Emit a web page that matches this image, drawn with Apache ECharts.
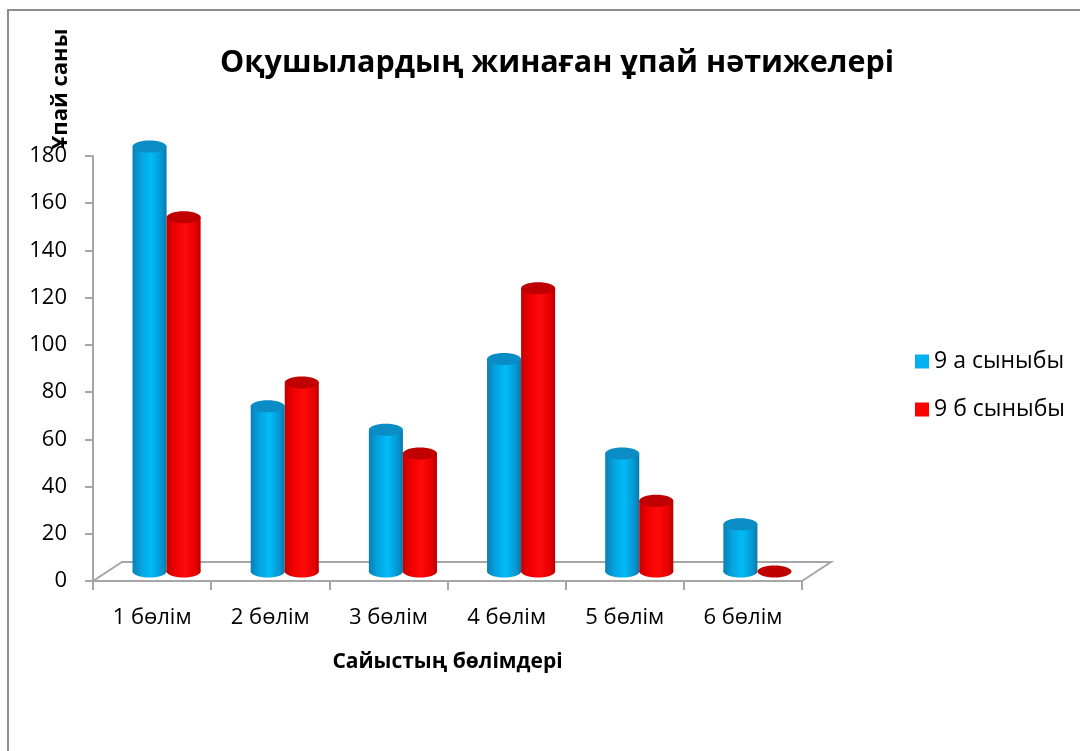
<!DOCTYPE html>
<html>
<head>
<meta charset="utf-8">
<style>
  html, body { margin: 0; padding: 0; background: #ffffff; }
  #chart { width: 1080px; height: 751px; }
</style>
<script src="https://cdn.jsdelivr.net/npm/echarts@6/dist/echarts.min.js"></script>
</head>
<body>
<div id="chart"></div>
<script>
// Chart data
const categories = ['1 бөлім', '2 бөлім', '3 бөлім', '4 бөлім', '5 бөлім', '6 бөлім'];
const classA = [180, 70, 60, 90, 50, 20];
const classB = [150, 80, 50, 120, 30, 0];
const seriesNames = ['9 а сыныбы', '9 б сыныбы'];
const yTicks = { min: 0, max: 180, interval: 20 };

const FONT = '"Open Sans", "Noto Sans", sans-serif';

// Depth offset of the 3D floor (pixels) and cylinder proportions
const DEPTH_DX = 29;
const DEPTH_DY = -19;
const BAR_RATIO = 34 / 118;   // width of one cylinder relative to the category band
const ELLIPSE_RY = 6;

const palettes = [
  {
    base: '#00B0F0',
    body: [
      { offset: 0, color: '#0a7fb5' },
      { offset: 0.25, color: '#05a2df' },
      { offset: 0.55, color: '#00bcf8' },
      { offset: 0.85, color: '#0596d0' },
      { offset: 1, color: '#0a78aa' }
    ],
    top: '#0a8cc4'
  },
  {
    base: '#FF0000',
    body: [
      { offset: 0, color: '#c40000' },
      { offset: 0.25, color: '#f00000' },
      { offset: 0.55, color: '#ff0a0a' },
      { offset: 0.85, color: '#e60000' },
      { offset: 1, color: '#b80000' }
    ],
    top: '#c00000'
  }
];

function cylinderRenderer(seriesIdx) {
  const pal = palettes[seriesIdx];
  return function (params, api) {
    const cat = api.value(0);
    const val = api.value(1);
    const top = api.coord([cat, val]);
    const base = api.coord([cat, 0]);
    const band = api.size([1, 0])[0];
    const rx = band * BAR_RATIO / 2;
    const cx = top[0] + DEPTH_DX / 2 + (seriesIdx === 0 ? -rx : rx);
    const yTop = top[1] + DEPTH_DY / 2;
    const yBase = base[1] + DEPTH_DY / 2;
    const grad = new echarts.graphic.LinearGradient(0, 0, 1, 0, pal.body);
    const children = [];
    if (val > 0) {
      children.push({
        type: 'ellipse',
        shape: { cx: cx, cy: yBase, rx: rx, ry: ELLIPSE_RY },
        style: { fill: grad }
      });
      children.push({
        type: 'rect',
        shape: { x: cx - rx, y: yTop, width: rx * 2, height: yBase - yTop },
        style: { fill: grad }
      });
    }
    children.push({
      type: 'ellipse',
      shape: { cx: cx, cy: yTop, rx: rx, ry: ELLIPSE_RY },
      style: { fill: pal.top }
    });
    return { type: 'group', children: children };
  };
}

// Floor of the 3D plot: parallelogram behind the category axis
function floorRenderer(params, api) {
  const first = api.coord([0, 0]);
  const band = api.size([1, 0])[0];
  const left = first[0] - band / 2;
  const right = left + band * categories.length;
  const y0 = first[1];
  return {
    type: 'polyline',
    shape: {
      points: [
        [left, y0],
        [left + DEPTH_DX, y0 + DEPTH_DY],
        [right + DEPTH_DX, y0 + DEPTH_DY],
        [right, y0]
      ]
    },
    style: { stroke: '#a6a6a6', lineWidth: 2, fill: null }
  };
}

const chart = echarts.init(document.getElementById('chart'), null, { renderer: 'canvas' });

chart.setOption({
  backgroundColor: '#ffffff',
  animation: false,
  title: {
    text: 'Оқушылардың жинаған ұпай нәтижелері',
    left: 220,
    top: 48,
    padding: 0,
    textStyle: { fontFamily: FONT, fontSize: 30.5, fontWeight: 'bold', color: '#000000' }
  },
  legend: {
    orient: 'vertical',
    left: 910,
    top: 345,
    itemWidth: 14,
    itemHeight: 14,
    itemGap: 25,
    icon: 'rect',
    data: seriesNames,
    textStyle: { fontFamily: FONT, fontSize: 23, color: '#000000' }
  },
  grid: { left: 93, right: 278, top: 156, bottom: 170, containLabel: false },
  xAxis: {
    type: 'category',
    data: categories,
    boundaryGap: true,
    name: 'Сайыстың бөлімдері',
    nameLocation: 'middle',
    nameGap: 71,
    nameTextStyle: { fontFamily: FONT, fontSize: 21, fontWeight: 'bold', color: '#000000' },
    axisLine: { lineStyle: { color: '#a6a6a6', width: 2 } },
    axisTick: { show: true, inside: false, length: 9, alignWithLabel: false, lineStyle: { color: '#a6a6a6', width: 2 } },
    axisLabel: { fontFamily: FONT, fontSize: 22, color: '#000000', margin: 26 },
    splitLine: { show: false }
  },
  yAxis: {
    type: 'value',
    min: yTicks.min,
    max: yTicks.max,
    interval: yTicks.interval,
    axisLine: { show: true, lineStyle: { color: '#a6a6a6', width: 2 } },
    axisTick: { show: true, length: 8, lineStyle: { color: '#a6a6a6', width: 2 } },
    axisLabel: { fontFamily: FONT, fontSize: 22, color: '#000000', margin: 26 },
    splitLine: { show: false }
  },
  graphic: [
    {
      type: 'rect',
      shape: { x: 8, y: 10, width: 1200, height: 900 },
      style: { fill: null, stroke: '#8c8c8c', lineWidth: 2 },
      silent: true,
      z: 0
    },
    {
      type: 'text',
      x: 61,
      y: 89,
      rotation: Math.PI / 2,
      style: {
        text: 'Ұпай саны',
        fontFamily: FONT,
        fontSize: 22,
        fontWeight: 'bold',
        fill: '#000000',
        align: 'center',
        verticalAlign: 'middle'
      }
    }
  ],
  series: [
    {
      type: 'custom',
      name: 'floor',
      renderItem: floorRenderer,
      data: [[0, 0]],
      encode: { x: 0, y: 1 },
      silent: true,
      z: 1
    },
    {
      type: 'custom',
      name: seriesNames[0],
      renderItem: cylinderRenderer(0),
      itemStyle: { color: palettes[0].base },
      data: classA.map((v, i) => [i, v]),
      encode: { x: 0, y: 1 },
      z: 3
    },
    {
      type: 'custom',
      name: seriesNames[1],
      renderItem: cylinderRenderer(1),
      itemStyle: { color: palettes[1].base },
      data: classB.map((v, i) => [i, v]),
      encode: { x: 0, y: 1 },
      z: 3
    }
  ]
});
</script>
</body>
</html>
